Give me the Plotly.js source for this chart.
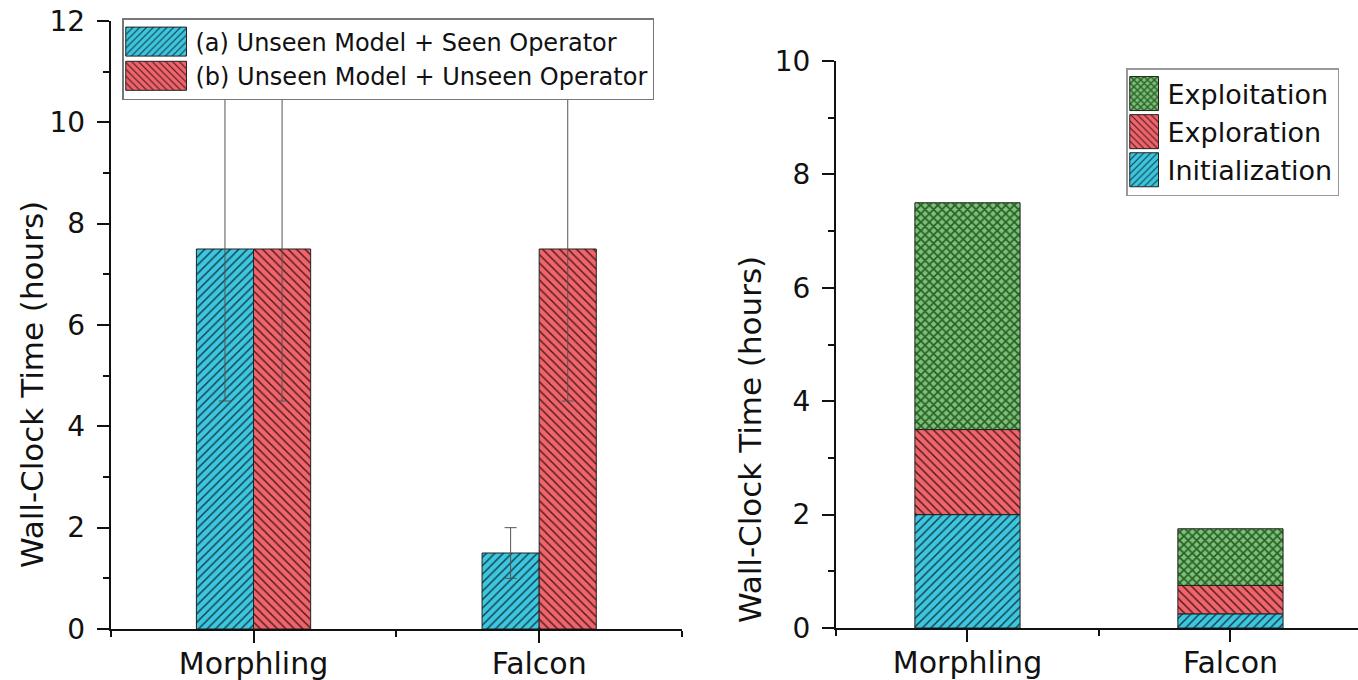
<!DOCTYPE html>
<html>
<head>
<meta charset="utf-8">
<script src="https://cdn.plot.ly/plotly-3.0.1.min.js"></script>
<style>
  html, body { margin: 0; padding: 0; background: #ffffff; }
  #chart { width: 1358px; height: 680px; }
</style>
</head>
<body>
<div id="chart"></div>
<script>
// ---------------- data ----------------
const categories = ['Morphling', 'Falcon'];

// left panel: wall-clock time (hours) with error bars
const seenOperatorName = '(a) Unseen Model + Seen Operator';
const seenOperatorValues = [7.5, 1.5];
const seenOperatorErrors = [3, 0.5];

const unseenOperatorName = '(b) Unseen Model + Unseen Operator';
const unseenOperatorValues = [7.5, 7.5];
const unseenOperatorErrors = [3, 3];

// right panel: stacked breakdown (hours)
const initializationValues = [2, 0.25];
const explorationValues = [1.5, 0.5];
const exploitationValues = [4, 1];

const leftYTicks = [0, 2, 4, 6, 8, 10, 12];
const rightYTicks = [0, 2, 4, 6, 8, 10];
const yTitle = 'Wall-Clock Time (hours)';

// ---------------- styling ----------------
const FONT = 'DejaVu Sans, Arial, sans-serif';
const BLUE = '#3cc6df';
const RED = '#f0646c';
const GREEN_BG = '#7cc274';
const GREEN_FG = '#2a5e2a';
const OUTLINE = '#222222';

const xPos = categories.map((_, i) => i);

function hatch(bg, fg, shape, size, solidity) {
  return { shape: shape, bgcolor: bg, fgcolor: fg, size: size, solidity: solidity, fillmode: 'replace' };
}

const errStyle = { type: 'data', visible: true, color: '#555555', thickness: 1, width: 6 };

const traces = [
  {
    type: 'bar', name: seenOperatorName, x: xPos, y: seenOperatorValues,
    xaxis: 'x', yaxis: 'y', legend: 'legend',
    width: 0.2, offset: -0.2,
    marker: { color: BLUE, pattern: hatch(BLUE, '#163c46', '/', 6, 0.24), line: { color: OUTLINE, width: 1 } },
    error_y: Object.assign({ array: seenOperatorErrors }, errStyle)
  },
  {
    type: 'bar', name: unseenOperatorName, x: xPos, y: unseenOperatorValues,
    xaxis: 'x', yaxis: 'y', legend: 'legend',
    width: 0.2, offset: 0,
    marker: { color: RED, pattern: hatch(RED, '#4a1a1c', '\\', 6, 0.24), line: { color: OUTLINE, width: 1 } },
    error_y: Object.assign({ array: unseenOperatorErrors }, errStyle)
  }
];

// stacked breakdown: base of each layer is the running sum of the layers below
const stackSeries = [
  { name: 'Initialization', values: initializationValues, color: BLUE, pattern: hatch(BLUE, '#163c46', '/', 6, 0.24) },
  { name: 'Exploration', values: explorationValues, color: RED, pattern: hatch(RED, '#4a1a1c', '\\', 6, 0.24) },
  { name: 'Exploitation', values: exploitationValues, color: '#5a9e55', pattern: hatch(GREEN_BG, GREEN_FG, 'x', 6, 0.5) }
];
let running = categories.map(() => 0);
stackSeries.forEach(s => {
  traces.push({
    type: 'bar', name: s.name, x: xPos, y: s.values, base: running.slice(),
    xaxis: 'x2', yaxis: 'y2', legend: 'legend2',
    width: 0.4, offset: -0.2,
    marker: { color: s.color, pattern: s.pattern, line: { color: OUTLINE, width: 1 } }
  });
  running = running.map((v, i) => v + s.values[i]);
});

const W = 1358, H = 680;
const axisLine = { showline: true, linecolor: '#111111', linewidth: 2, mirror: false, showgrid: false, zeroline: false };
const xTickFont = { family: FONT, size: 30, color: '#111111' };
const yTickFont = { family: FONT, size: 28, color: '#111111' };
const titleFont = { family: FONT, size: 31, color: '#111111' };

function xAxis(domain, range, anchor) {
  return Object.assign({}, axisLine, {
    domain: domain, range: range, anchor: anchor, fixedrange: true,
    tickmode: 'array', tickvals: xPos, ticktext: categories,
    ticks: 'outside', ticklen: 12, tickwidth: 2, tickcolor: '#111111',
    minor: { tickmode: 'linear', tick0: -0.5, dtick: 0.5, ticks: 'outside', ticklen: 6, tickwidth: 2, tickcolor: '#111111' },
    tickfont: xTickFont, ticklabelstandoff: -5, automargin: false
  });
}
function yAxis(domain, range, ticks, anchor) {
  return Object.assign({}, axisLine, {
    domain: domain, range: range, anchor: anchor, fixedrange: true,
    tickmode: 'array', tickvals: ticks,
    ticks: 'outside', ticklen: 12, tickwidth: 2, tickcolor: '#111111',
    minor: { tickmode: 'linear', tick0: 1, dtick: 2, ticks: 'outside', ticklen: 6, tickwidth: 2, tickcolor: '#111111' },
    tickfont: yTickFont, ticklabelstandoff: 6, automargin: false
  });
}

// y-axis titles sit lower than the axis centre in the reference, so place them as rotated annotations
function yTitleAnnotation(xPx, yPx) {
  return {
    text: yTitle, textangle: -90, showarrow: false,
    xref: 'paper', yref: 'paper', x: xPx / W, y: 1 - yPx / H,
    xanchor: 'center', yanchor: 'middle', font: titleFont
  };
}

const layout = {
  width: W, height: H,
  margin: { l: 0, r: 0, t: 0, b: 0, pad: 0 },
  paper_bgcolor: '#ffffff', plot_bgcolor: '#ffffff',
  barmode: 'overlay', bargap: 0.6,
  showlegend: true,
  xaxis: xAxis([110.7 / W, 682 / W], [-0.5, 1.5], 'y'),
  yaxis: yAxis([(H - 629) / H, (H - 21) / H], [0, 12], leftYTicks, 'x'),
  xaxis2: xAxis([836 / W, 1], [-0.5, 1.485], 'y2'),
  yaxis2: yAxis([(H - 628) / H, (H - 61) / H], [0, 10], rightYTicks, 'x2'),
  annotations: [yTitleAnnotation(32, 385), yTitleAnnotation(750, 440)],
  legend: {
    x: 122 / W, y: 1 - 18 / H, xanchor: 'left', yanchor: 'top',
    font: { family: FONT, size: 24, color: '#111111' },
    bgcolor: '#ffffff', bordercolor: '#777777', borderwidth: 1.5,
    itemwidth: 62, tracegroupgap: 0, traceorder: 'normal'
  },
  legend2: {
    x: 1126 / W, y: 1 - 68 / H, xanchor: 'left', yanchor: 'top',
    font: { family: FONT, size: 27, color: '#111111' },
    bgcolor: '#ffffff', bordercolor: '#999999', borderwidth: 1.5,
    itemwidth: 30, tracegroupgap: 0, traceorder: 'reversed'
  }
};

// enlarge the legend swatches (Plotly draws 12x12 squares) to the reference's large rectangles
function enlargeSwatches() {
  const root = document.getElementById('chart');
  root.querySelectorAll('g.traces').forEach(tr => {
    const text = tr.querySelector('text');
    const path = tr.querySelector('g.legendpoints path') || tr.querySelector('path');
    if (!path || !text) return;
    let p = tr.parentNode;
    let bg = null;
    while (p && p !== root) {
      const kids = p.children ? Array.prototype.slice.call(p.children) : [];
      const cand = kids.find(c => c.tagName && c.tagName.toLowerCase() === 'rect' && c.classList.contains('bg'));
      if (cand) { bg = cand; break; }
      p = p.parentNode;
    }
    if (!bg) return;
    const isLeft = /Operator/.test(text.textContent || '');
    const spec = isLeft ? { h: 29, padL: 3, gap: 9 } : { h: 34, padL: 3, gap: 9 };
    path.setAttribute('d', 'M6,6H-6V-6H6Z');
    const pr = path.getBoundingClientRect();
    const cx = pr.left + pr.width / 2;
    const br = bg.getBoundingClientRect();
    const trr = text.getBoundingClientRect();
    const left = br.left + spec.padL - cx;
    const right = trr.left - spec.gap - cx;
    const h = spec.h / 2;
    path.setAttribute('d', 'M' + left + ',' + (-h) + 'H' + right + 'V' + h + 'H' + left + 'Z');
  });
}

const gdEl = document.getElementById('chart');
Plotly.newPlot(gdEl, traces, layout, { staticPlot: true, displayModeBar: false })
  .then(() => {
    enlargeSwatches();
    if (gdEl.on) gdEl.on('plotly_afterplot', enlargeSwatches);
  });
</script>
</body>
</html>
